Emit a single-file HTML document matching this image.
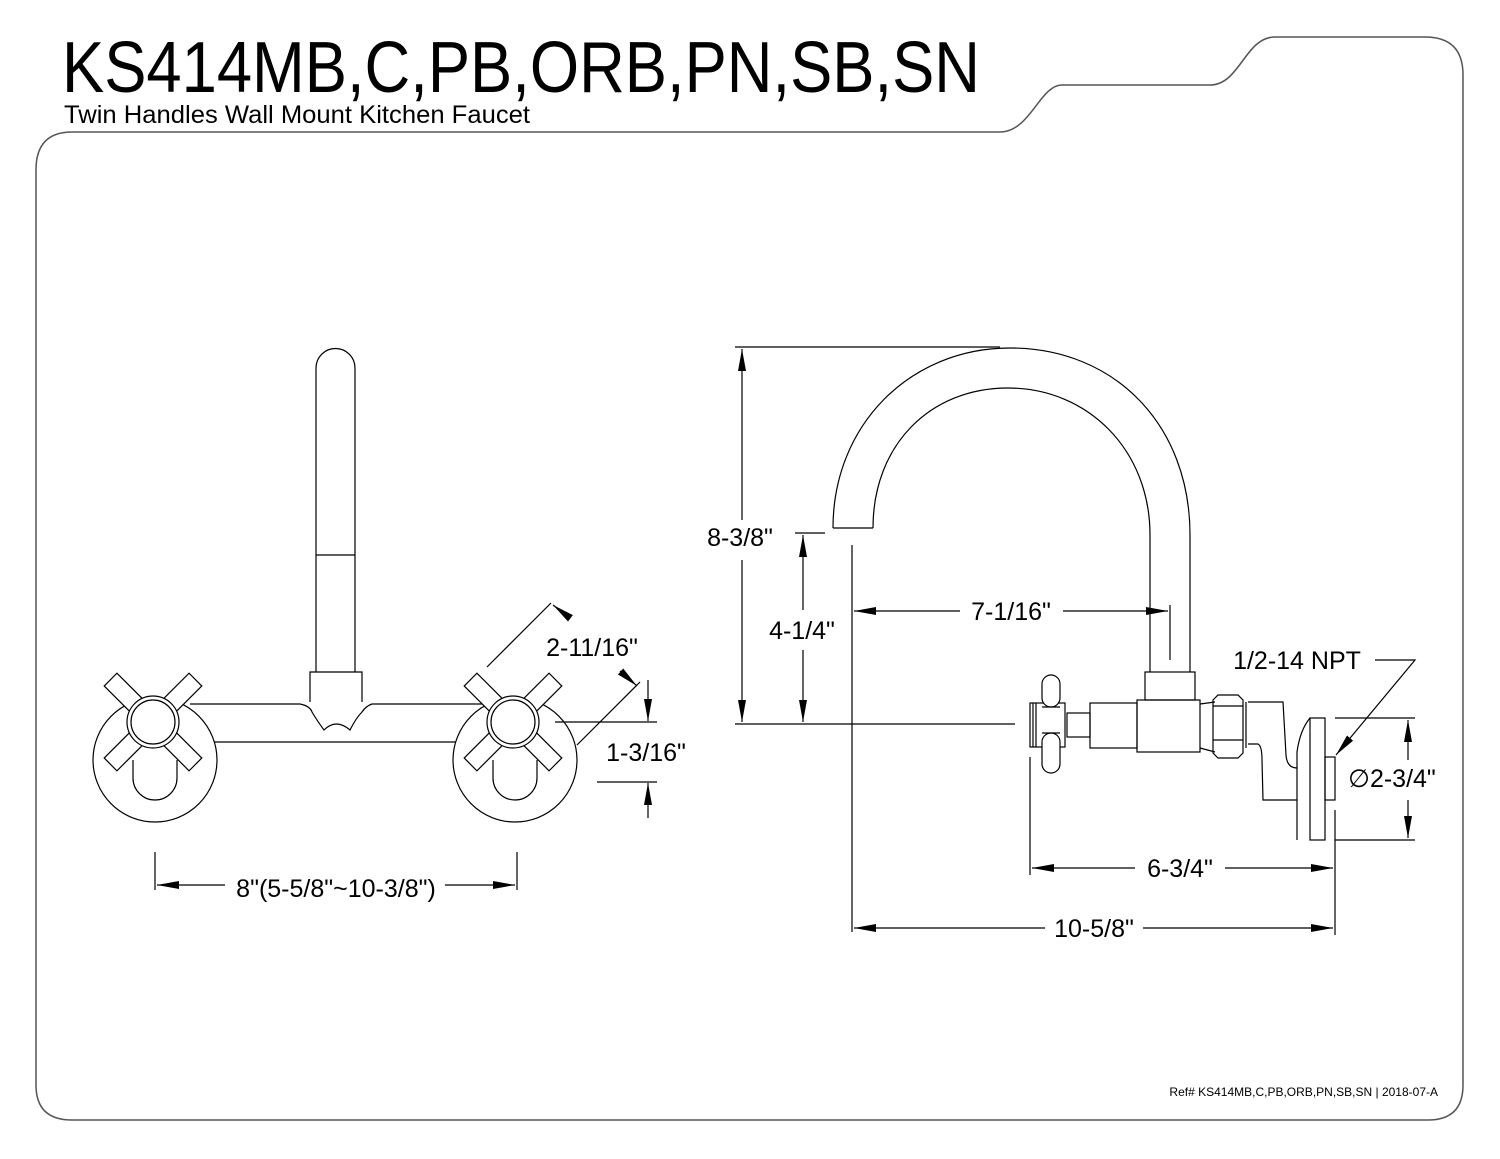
<!DOCTYPE html>
<html><head><meta charset="utf-8"><style>
html,body{margin:0;padding:0;background:#fff;}
svg{display:block;}
text{font-family:"Liberation Sans",sans-serif;fill:#000;}
</style></head><body>
<svg width="1500" height="1159" viewBox="0 0 1500 1159" xmlns="http://www.w3.org/2000/svg">
<defs>
<marker id="a" markerWidth="22" markerHeight="8" refX="22" refY="4" orient="auto" markerUnits="userSpaceOnUse"><path d="M0,0 L22,4 L0,8 z" fill="#000"/></marker>
</defs>
<!-- frame -->
<path d="M72,132 L1000,132 C1030,132 1040,85 1062,85 L1210,85 C1240,85 1245,37 1275,37 L1425,37 Q1463,37 1463,75 L1463,1085 Q1463,1120 1428,1120 L72,1120 Q36,1120 36,1085 L36,170 Q36,132 72,132 Z" fill="none" stroke="#555" stroke-width="1.5"/>
<text x="62" y="92" font-size="72" textLength="918" lengthAdjust="spacingAndGlyphs">KS414MB,C,PB,ORB,PN,SB,SN</text>
<text x="64" y="123" font-size="25" textLength="466" lengthAdjust="spacingAndGlyphs">Twin Handles Wall Mount Kitchen Faucet</text>
<text x="1438" y="1096" font-size="12" text-anchor="end">Ref# KS414MB,C,PB,ORB,PN,SB,SN | 2018-07-A</text>

<g fill="none" stroke="#000" stroke-width="1.2">
<!-- LEFT VIEW -->
<path d="M316,672 L316,368 A19.5,19.5 0 0 1 355,368 L355,672"/>
<line x1="316" y1="555" x2="355" y2="555"/>
<path d="M310,702 L310,672 L362,672 L362,702"/>
<path d="M190,704 L300,704 Q310,706 312,712 Q318,722 324,730 Q336,718 350,730 Q356,718 362,712 Q366,706 372,704 L490,704"/>
<line x1="190" y1="742" x2="490" y2="742"/>
<!-- escutcheons -->
<circle cx="155" cy="760" r="62" fill="#fff"/>
<circle cx="515" cy="760" r="62" fill="#fff"/>
<path d="M133,760 L133,778 A22,22 0 0 0 177,778 L177,760"/>
<path d="M493,760 L493,778 A22,22 0 0 0 537,778 L537,760"/>
<!-- cross handles -->
<g transform="translate(153,722)" fill="#fff">
<rect x="-60" y="-9" width="120" height="18" transform="rotate(45)"/>
<rect x="-60" y="-9" width="120" height="18" transform="rotate(-45)"/>
<circle r="26"/><circle r="22"/>
</g>
<g transform="translate(513,722)" fill="#fff">
<rect x="-60" y="-9" width="120" height="18" transform="rotate(45)"/>
<rect x="-60" y="-9" width="120" height="18" transform="rotate(-45)"/>
<circle r="26"/><circle r="22"/>
</g>
<!-- left dims -->
<line x1="155" y1="852" x2="155" y2="890"/>
<line x1="517" y1="852" x2="517" y2="890"/>
<line x1="225" y1="885" x2="157" y2="885" marker-end="url(#a)"/>
<line x1="445" y1="885" x2="515" y2="885" marker-end="url(#a)"/>
<line x1="487" y1="667" x2="551" y2="603"/>
<line x1="577" y1="745" x2="640" y2="682"/>
<line x1="570" y1="618" x2="553" y2="605" marker-end="url(#a)"/>
<line x1="620" y1="671" x2="637" y2="686" marker-end="url(#a)"/>
<line x1="555" y1="722" x2="657" y2="722"/>
<line x1="597" y1="782" x2="657" y2="782"/>
<line x1="648" y1="680" x2="648" y2="721" marker-end="url(#a)"/>
<line x1="648" y1="818" x2="648" y2="783" marker-end="url(#a)"/>

<!-- RIGHT VIEW spout -->
<path d="M833,528 C833,425 910,348 1010,348 C1115,348 1190,425 1190,535 L1190,672"/>
<path d="M873,528 C873,445 930,388 1008,388 C1088,388 1150,450 1150,535 L1150,672"/>
<line x1="833" y1="528" x2="873" y2="528"/>
<rect x="1145" y="672" width="50" height="28"/>
<rect x="1137" y="700" width="63" height="52"/>
<rect x="1090" y="703" width="47" height="45"/>
<rect x="1067" y="713" width="23" height="24"/>
<rect x="1030" y="703" width="35" height="44"/>
<line x1="1033" y1="703" x2="1033" y2="747"/><line x1="1036" y1="703" x2="1036" y2="747"/>
<rect x="1042" y="675" width="18" height="32" rx="9" fill="#fff"/>
<rect x="1042" y="733" width="18" height="40" rx="9" fill="#fff"/>
<line x1="1042" y1="707" x2="1060" y2="707"/><line x1="1042" y1="733" x2="1060" y2="733"/>
<path d="M1200,704 L1215,702 M1200,748 L1215,752"/>
<path d="M1218,695 L1238,695 L1243,700 L1243,753 L1238,758 L1218,758 L1213,753 L1213,700 Z"/>
<line x1="1213" y1="706" x2="1243" y2="706"/><line x1="1213" y1="740" x2="1243" y2="740"/>
<line x1="1246" y1="702" x2="1246" y2="748"/>
<path d="M1248,702 L1283,702 L1286,755 Q1287,768 1297,768"/>
<path d="M1248,744 L1258,744 Q1262,746 1262,760 L1263,800 L1297,800"/>
<path d="M1297,840 L1297,752 Q1300,730 1310,718"/>
<rect x="1310" y="718" width="15" height="122"/>
<rect x="1325" y="757" width="10" height="43"/>
<!-- right dims -->
<line x1="735" y1="347" x2="1000" y2="347"/>
<line x1="735" y1="724" x2="1015" y2="724"/>
<line x1="742" y1="520" x2="742" y2="349" marker-end="url(#a)"/>
<line x1="742" y1="560" x2="742" y2="722" marker-end="url(#a)"/>
<line x1="795" y1="533" x2="825" y2="533"/>
<line x1="803" y1="610" x2="803" y2="535" marker-end="url(#a)"/>
<line x1="803" y1="650" x2="803" y2="722" marker-end="url(#a)"/>
<line x1="852" y1="545" x2="852" y2="932"/>
<line x1="1170" y1="605" x2="1170" y2="660"/>
<line x1="960" y1="611" x2="854" y2="611" marker-end="url(#a)"/>
<line x1="1063" y1="611" x2="1168" y2="611" marker-end="url(#a)"/>
<line x1="1030" y1="757" x2="1030" y2="875"/>
<line x1="1335" y1="810" x2="1335" y2="935"/>
<line x1="1135" y1="868" x2="1032" y2="868" marker-end="url(#a)"/>
<line x1="1225" y1="868" x2="1333" y2="868" marker-end="url(#a)"/>
<line x1="1045" y1="928" x2="854" y2="928" marker-end="url(#a)"/>
<line x1="1143" y1="928" x2="1333" y2="928" marker-end="url(#a)"/>
<line x1="1335" y1="718" x2="1415" y2="718"/>
<line x1="1335" y1="840" x2="1415" y2="840"/>
<line x1="1408" y1="760" x2="1408" y2="720" marker-end="url(#a)"/>
<line x1="1408" y1="800" x2="1408" y2="838" marker-end="url(#a)"/>
<path d="M1375,660 L1415,660 L1336,755" marker-end="url(#a)"/>
</g>
<g font-size="25" text-anchor="middle">
<text x="336" y="897">8"(5-5/8"~10-3/8")</text>
<text x="592" y="656">2-11/16"</text>
<text x="646" y="761">1-3/16"</text>
<text x="740" y="546">8-3/8"</text>
<text x="802" y="639">4-1/4"</text>
<text x="1011" y="620">7-1/16"</text>
<text x="1180" y="877">6-3/4"</text>
<text x="1094" y="937">10-5/8"</text>
<text x="1297" y="669">1/2-14 NPT</text>
<text x="1392" y="787">∅2-3/4"</text>
</g>
</svg>
</body></html>
